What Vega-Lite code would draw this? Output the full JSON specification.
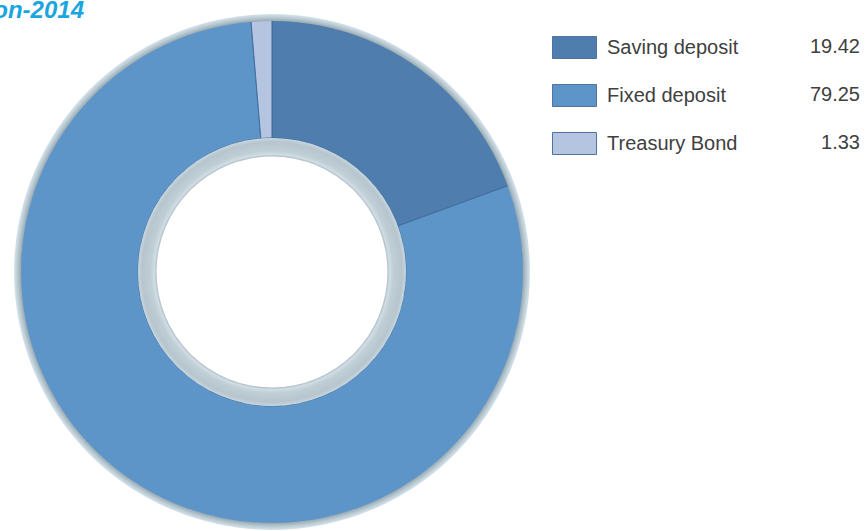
{
  "$schema": "https://vega.github.io/schema/vega-lite/v6.json",
  "width": 544,
  "height": 544,
  "autosize": {"type": "none"},
  "padding": {"left": 0, "top": 0, "right": 322, "bottom": -13},
  "background": "white",
  "view": {"stroke": null},
  "config": {"font": "Liberation Sans"},
  "title": {
    "text": "Investment Composition-2014",
    "orient": "top",
    "anchor": "start",
    "frame": "group",
    "align": "right",
    "baseline": "alphabetic",
    "offset": 0,
    "dx": 84,
    "dy": 42,
    "font": "Liberation Sans",
    "fontSize": 24,
    "fontWeight": "bold",
    "fontStyle": "italic",
    "color": "#1ba5df"
  },
  "layer": [
    {
      "data": {
        "values": [
          {"category": "Saving deposit", "value": 19.42, "label": "19.42", "idx": 1},
          {"category": "Fixed deposit", "value": 79.25, "label": "79.25", "idx": 2},
          {"category": "Treasury Bond", "value": 1.33, "label": "1.33", "idx": 3}
        ]
      },
      "mark": {"type": "arc", "radius": 252, "radius2": 134, "stroke": "#3f6d9d", "strokeWidth": 1},
      "encoding": {
        "theta": {"field": "value", "type": "quantitative", "stack": true},
        "order": {"field": "idx", "type": "quantitative"},
        "color": {
          "field": "category",
          "type": "nominal",
          "scale": {
            "domain": ["Saving deposit", "Fixed deposit", "Treasury Bond"],
            "range": ["#4e7dae", "#5e95c9", "#b5c4e0"]
          },
          "legend": {
            "orient": "none",
            "legendX": 552,
            "legendY": 25,
            "title": null,
            "padding": 0,
            "symbolType": "M-1,-0.5H1V0.5H-1Z",
            "symbolSize": 1936,
            "symbolStrokeColor": "#4f74a0",
            "symbolStrokeWidth": 1,
            "labelFont": "Liberation Sans",
            "labelFontSize": 20,
            "labelColor": "#404040",
            "labelOffset": 10,
            "labelLimit": 300,
            "rowPadding": 12
          }
        },
        "opacity": {
          "field": "label",
          "type": "nominal",
          "scale": {"domain": ["19.42", "79.25", "1.33"], "range": [1, 1, 1]},
          "legend": {
            "orient": "none",
            "legendX": 816,
            "legendY": 25,
            "title": null,
            "padding": 0,
            "symbolType": "M-1,-0.5H1V0.5H-1Z",
            "symbolSize": 1936,
            "symbolFillColor": "transparent",
            "symbolStrokeColor": "transparent",
            "symbolStrokeWidth": 0,
            "labelFont": "Liberation Sans",
            "labelFontSize": 20,
            "labelColor": "#404040",
            "labelAlign": "right",
            "labelOffset": 0,
            "rowPadding": 15
          }
        },
        "strokeDash": {
          "datum": "title box",
          "type": "nominal",
          "scale": {"range": [[1, 0]]},
          "legend": {
            "orient": "none",
            "legendX": -100,
            "legendY": -169,
            "title": null,
            "padding": 30,
            "symbolType": "square",
            "symbolSize": 22500,
            "symbolFillColor": "transparent",
            "symbolStrokeColor": "transparent",
            "symbolStrokeWidth": 0,
            "labelExpr": "''",
            "labelOffset": 0,
            "labelFontSize": 1,
            "strokeColor": "#92d4f0"
          }
        }
      }
    },
    {
      "data": {"values": [{"part": "outer ring"}]},
      "mark": {
        "type": "arc",
        "theta": 0,
        "theta2": 6.2832,
        "radius": 258,
        "radius2": 251,
        "fill": {
          "gradient": "radial",
          "x1": 0.5, "y1": 0.5, "r1": 0,
          "x2": 0.5, "y2": 0.5, "r2": 0.5,
          "stops": [
            {"offset": 0, "color": "#9aaab3"},
            {"offset": 0.973, "color": "#9aaab3"},
            {"offset": 0.986, "color": "#b9c9d2"},
            {"offset": 1, "color": "#d6e4eb"}
          ]
        }
      },
      "encoding": {}
    },
    {
      "data": {"values": [{"part": "inner ring"}]},
      "mark": {
        "type": "arc",
        "theta": 0,
        "theta2": 6.2832,
        "radius": 134,
        "radius2": 115.5,
        "fill": {
          "gradient": "radial",
          "x1": 0.5, "y1": 0.5, "r1": 0,
          "x2": 0.5, "y2": 0.5, "r2": 0.5,
          "stops": [
            {"offset": 0, "color": "#aebcc4"},
            {"offset": 0.862, "color": "#aebcc4"},
            {"offset": 0.877, "color": "#d0dde5"},
            {"offset": 0.905, "color": "#c0ced6"},
            {"offset": 0.97, "color": "#b7c6ce"},
            {"offset": 1, "color": "#c8d6de"}
          ]
        }
      },
      "encoding": {}
    }
  ]
}
